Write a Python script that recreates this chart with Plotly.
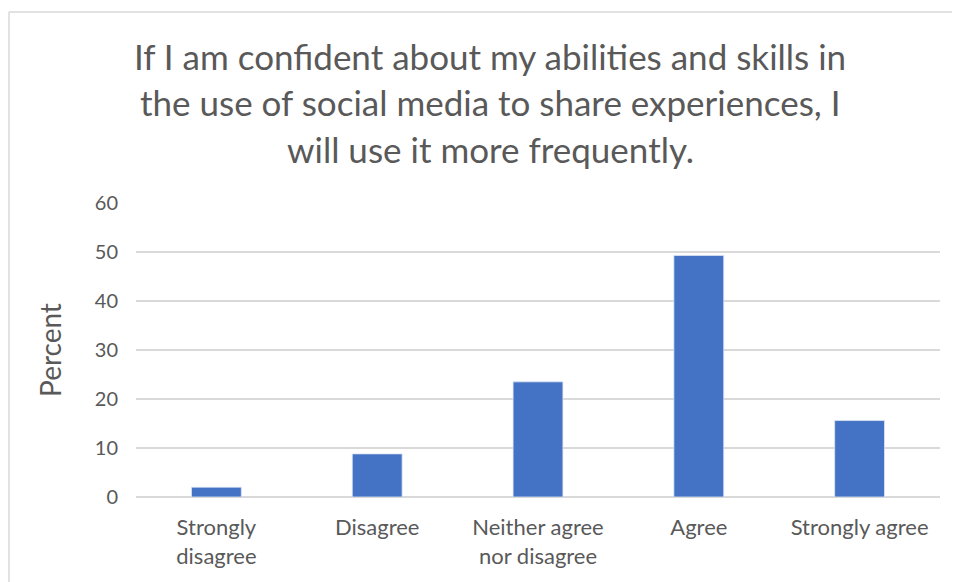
import plotly.graph_objects as go

categories = ["Strongly<br>disagree", "Disagree", "Neither agree<br>nor disagree", "Agree", "Strongly agree"]
percent = [2.0, 8.8, 23.5, 49.3, 15.6]
y_ticks = [0, 10, 20, 30, 40, 50, 60]
title_lines = [
    "If I am confident about my abilities and skills in",
    "the use of social media to share experiences, I",
    "will use it more frequently.",
]

FONT = "Lato, Carlito, Calibri, sans-serif"
GRAY = "#595959"

fig = go.Figure(go.Bar(
    x=categories, y=percent,
    marker=dict(color="#4472C4", line=dict(color="#dbe4f5", width=0.8)),
    width=0.31,
))

# page body has an 8px margin, so the figure is drawn 8px smaller and
# reference pixel positions are shifted by 8
OFF = 8
W, H = 960 - OFF, 582 - OFF
L, R, T, B = 136 - OFF, 20, 203 - OFF, 85
pw, ph = W - L - R, H - T - B

def px_to_paper_x(px):
    return (px - OFF - L) / pw

def px_to_paper_y(py):
    return (H - B - (py - OFF)) / ph

annotations = []
for line, ypx in zip(title_lines, [56, 102, 149]):
    annotations.append(dict(
        text=line, x=px_to_paper_x(490), y=px_to_paper_y(ypx),
        xref="paper", yref="paper", xanchor="center", yanchor="middle",
        showarrow=False, font=dict(family=FONT, size=35, color=GRAY),
    ))

shapes = [
    dict(type="line", xref="paper", yref="paper",
         x0=px_to_paper_x(9), x1=px_to_paper_x(970), y0=px_to_paper_y(12), y1=px_to_paper_y(12),
         line=dict(color="#d9d9d9", width=1.5)),
    dict(type="line", xref="paper", yref="paper",
         x0=px_to_paper_x(9), x1=px_to_paper_x(9), y0=px_to_paper_y(12), y1=px_to_paper_y(590),
         line=dict(color="#d9d9d9", width=1.5)),
]

fig.update_layout(
    width=W, height=H,
    margin=dict(l=L, r=R, t=T, b=B, autoexpand=False),
    paper_bgcolor="white", plot_bgcolor="white",
    showlegend=False,
    annotations=annotations, shapes=shapes,
    font=dict(family=FONT, color=GRAY),
    xaxis=dict(
        showgrid=False, showline=False, zeroline=False,
        tickfont=dict(size=22, color=GRAY), ticks="",
        ticklabelstandoff=15,
    ),
    yaxis=dict(
        range=[0, 60], tickvals=y_ticks,
        showgrid=True, gridcolor="#d9d9d9", gridwidth=1.5,
        zeroline=True, zerolinecolor="#d9d9d9", zerolinewidth=1.5,
        showline=False, ticks="",
        tickfont=dict(size=20, color=GRAY),
        ticklabelstandoff=17,
        title=dict(text="Percent", font=dict(size=28, color=GRAY), standoff=24),
    ),
    bargap=0.69,
)

fig.write_html("out.html")
